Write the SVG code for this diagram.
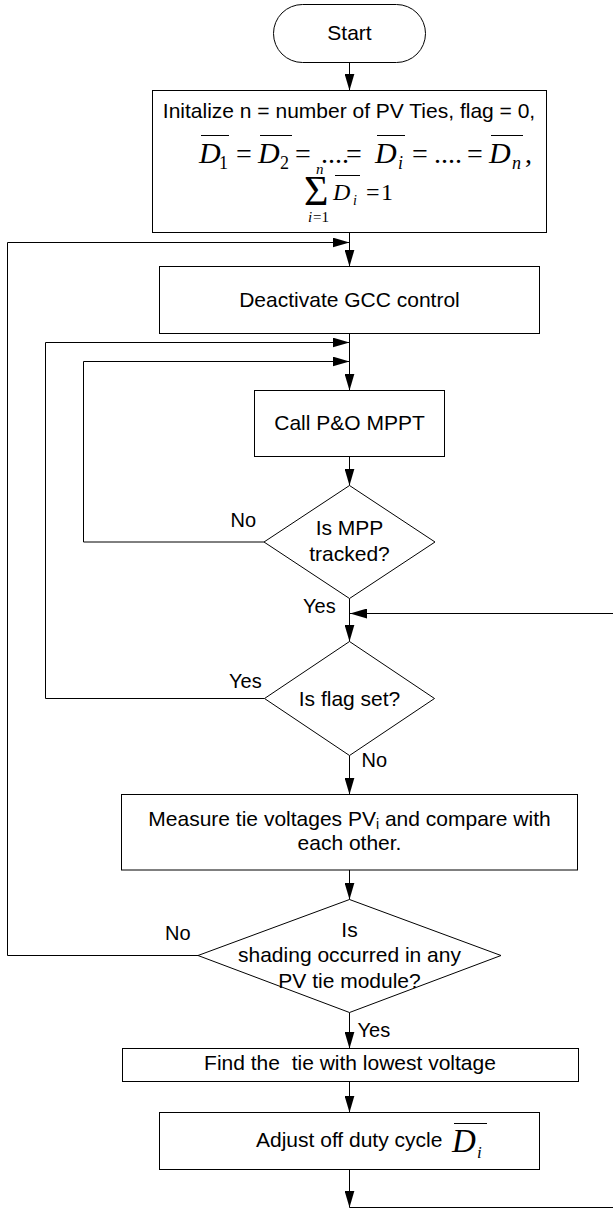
<svg xmlns="http://www.w3.org/2000/svg" width="613" height="1211" viewBox="0 0 613 1211">
<style>
.box{fill:#fff;stroke:#000;stroke-width:1}
.ln{fill:none;stroke:#000;stroke-width:1}
.t{font-family:"Liberation Sans",Arial,sans-serif;font-size:21px;fill:#000}
.c{text-anchor:middle}
.lb{font-family:"Liberation Sans",Arial,sans-serif;font-size:20px;fill:#000}
.mi{font-family:"Liberation Serif","Times New Roman",serif;font-style:italic;fill:#000}
.mr{font-family:"Liberation Serif","Times New Roman",serif;fill:#000}
</style>
<defs>
<marker id="ah" markerUnits="userSpaceOnUse" markerWidth="17" markerHeight="10" refX="17" refY="5" orient="auto">
<path d="M0,0 L17,5 L0,10 z" fill="#000"/>
</marker>
</defs>
<rect width="613" height="1211" fill="#fff"/>

<g id="connectors">
<path class="ln" d="M349.5,62.5 V90.5" marker-end="url(#ah)"/>
<path class="ln" d="M349.5,232.5 V266.5" marker-end="url(#ah)"/>
<path class="ln" d="M349.5,333.5 V390.5" marker-end="url(#ah)"/>
<path class="ln" d="M349.5,456.5 V485.5" marker-end="url(#ah)"/>
<path class="ln" d="M349.5,598.5 V641.5" marker-end="url(#ah)"/>
<path class="ln" d="M349.5,755.5 V794.5" marker-end="url(#ah)"/>
<path class="ln" d="M349.5,870 V899.5" marker-end="url(#ah)"/>
<path class="ln" d="M349.5,1012.5 V1048.5" marker-end="url(#ah)"/>
<path class="ln" d="M349.5,1081.5 V1112.5" marker-end="url(#ah)"/>
<path class="ln" d="M349.5,1169.5 V1207.5" marker-end="url(#ah)"/>
<path class="ln" d="M349.5,1207.5 H614 V613.5 H350" marker-end="url(#ah)"/>
<path class="ln" d="M264,542 H83.5 V361.5 H349.5" marker-end="url(#ah)"/>
<path class="ln" d="M264.5,698.5 H45.5 V342.5 H349.5" marker-end="url(#ah)"/>
<path class="ln" d="M198,955.5 H7.5 V242.5 H349.5" marker-end="url(#ah)"/>
</g>

<g id="start">
<rect class="box" x="273.5" y="4.5" width="152" height="58" rx="29" ry="29"/>
<text class="t c" x="349.5" y="40">Start</text>
</g>

<g id="init">
<rect class="box" x="152.5" y="90.5" width="394" height="142"/>
<text class="t c" x="349" y="117.5">Initalize n = number of PV Ties, flag = 0,</text>
<g id="eq1">
<line class="ln" x1="201" y1="135.5" x2="229" y2="135.5"/>
<text class="mi" x="199" y="163" font-size="30">D</text>
<text class="mr" x="219" y="168.5" font-size="18">1</text>
<text class="mr" x="236" y="163" font-size="28">=</text>
<line class="ln" x1="260" y1="135.5" x2="292" y2="135.5"/>
<text class="mi" x="258" y="163" font-size="30">D</text>
<text class="mr" x="280" y="168.5" font-size="18">2</text>
<text class="mr" x="295" y="163" font-size="28">=</text>
<text class="mr" x="321" y="163" font-size="28">....</text>
<text class="mr" x="346" y="163" font-size="28">=</text>
<line class="ln" x1="377" y1="135.5" x2="405" y2="135.5"/>
<text class="mi" x="375" y="163" font-size="30">D</text>
<text class="mi" x="398" y="168.5" font-size="18">i</text>
<text class="mr" x="412" y="163" font-size="28">=</text>
<text class="mr" x="434" y="163" font-size="28">....</text>
<text class="mr" x="467" y="163" font-size="28">=</text>
<line class="ln" x1="491" y1="135.5" x2="523" y2="135.5"/>
<text class="mi" x="489" y="163" font-size="30">D</text>
<text class="mi" x="512" y="168.5" font-size="18">n</text>
<text class="mr" x="525" y="163" font-size="28">,</text>
</g>
<g id="eq2">
<text class="mi" x="316" y="174" font-size="15">n</text>
<text class="mr" x="304" y="205" font-size="42">Σ</text>
<text class="mi" x="308" y="222" font-size="15">i</text>
<text class="mr" x="313" y="222" font-size="15">=1</text>
<line class="ln" x1="335" y1="175.5" x2="360" y2="175.5"/>
<text class="mi" x="333" y="200" font-size="24">D</text>
<text class="mi" x="353" y="205" font-size="14">i</text>
<text class="mr" x="366" y="200" font-size="24">=</text>
<text class="mr" x="381" y="200" font-size="24">1</text>
</g>
</g>

<g id="deactivate">
<rect class="box" x="159.5" y="266.5" width="380" height="67"/>
<text class="t c" x="349.5" y="307">Deactivate GCC control</text>
</g>

<g id="call">
<rect class="box" x="254.5" y="390.5" width="190" height="66"/>
<text class="t c" x="349.5" y="430">Call P&amp;O MPPT</text>
</g>

<g id="mpp">
<polygon class="box" points="349.5,485.5 435,542 349.5,598.5 264,542"/>
<text class="t c" x="349.5" y="535">Is MPP</text>
<text class="t c" x="349.5" y="560.5">tracked?</text>
</g>

<g id="flag">
<polygon class="box" points="349.5,641.5 434.5,698.5 349.5,755.5 264.5,698.5"/>
<text class="t c" x="349.5" y="706">Is flag set?</text>
</g>

<g id="measure">
<rect class="box" x="121.5" y="794.5" width="456" height="75.5"/>
<text class="t c" x="349.5" y="826">Measure tie voltages PV<tspan font-size="14" dy="3">i</tspan><tspan dy="-3"> and compare with</tspan></text>
<text class="t c" x="349.5" y="850">each other.</text>
</g>

<g id="shading">
<polygon class="box" points="349.5,899.5 501,955.5 349.5,1012.5 198,955.5"/>
<text class="t c" x="349.5" y="936.5">Is</text>
<text class="t c" x="349.5" y="961.5">shading occurred in any</text>
<text class="t c" x="349.5" y="987.5">PV tie module?</text>
</g>

<g id="find">
<rect class="box" x="122.5" y="1048.5" width="456" height="33"/>
<text class="t c" x="350" y="1070" style="white-space:pre">Find the  tie with lowest voltage</text>
</g>

<g id="adjust">
<rect class="box" x="159.5" y="1112.5" width="380" height="57"/>
<text class="t" x="256" y="1147">Adjust off duty cycle</text>
<line class="ln" x1="454" y1="1123.5" x2="487" y2="1123.5"/>
<text class="mi" x="452" y="1152" font-size="33">D</text>
<text class="mi" x="477" y="1158" font-size="17">i</text>
</g>

<g id="labels">
<text class="lb" x="230.5" y="527">No</text>
<text class="lb" x="303" y="613">Yes</text>
<text class="lb" x="229" y="688">Yes</text>
<text class="lb" x="361.5" y="767">No</text>
<text class="lb" x="165" y="940">No</text>
<text class="lb" x="357.5" y="1037">Yes</text>
</g>
</svg>
